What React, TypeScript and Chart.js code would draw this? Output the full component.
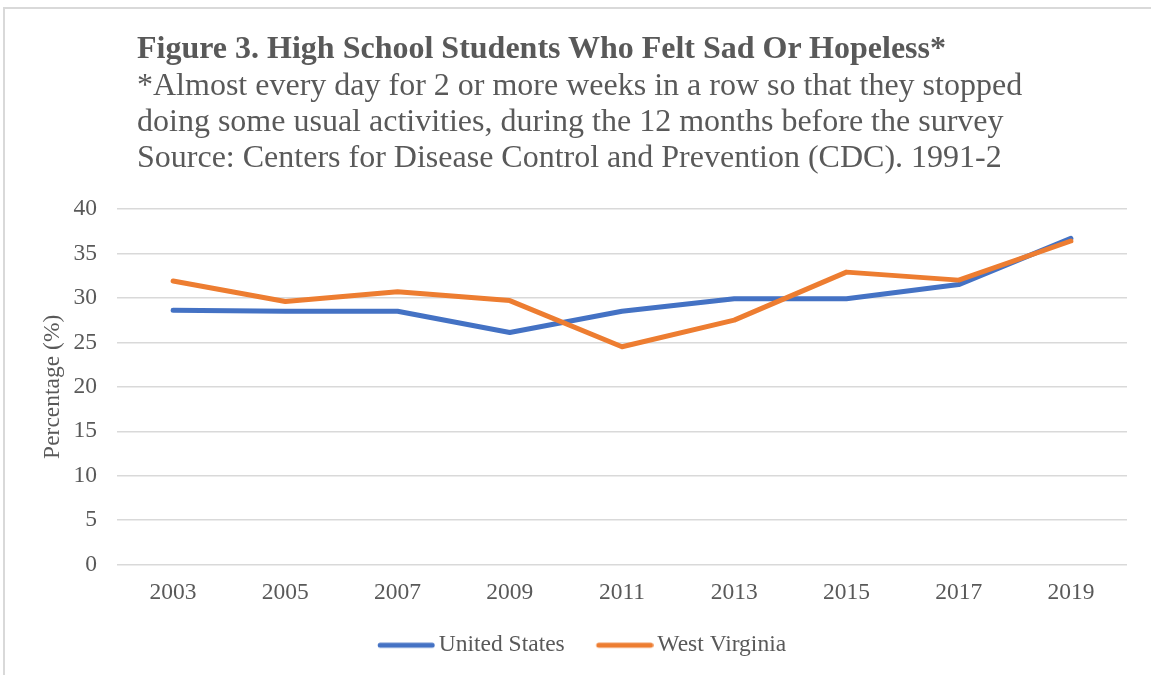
import React, { useEffect, useRef } from "react";
import { Chart, registerables } from "chart.js";

Chart.register(...registerables);

const years = ["2003", "2005", "2007", "2009", "2011", "2013", "2015", "2017", "2019"];
const unitedStates = [28.6, 28.5, 28.5, 26.1, 28.5, 29.9, 29.9, 31.5, 36.7];
const westVirginia = [31.9, 29.6, 30.7, 29.7, 24.5, 27.5, 32.9, 32.0, 36.4];
const titleLine = "Figure 3. High School Students Who Felt Sad Or Hopeless*";
const subtitleLines = [
  "*Almost every day for 2 or more weeks in a row so that they stopped",
  "doing some usual activities, during the 12 months before the survey",
  "Source: Centers for Disease Control and Prevention (CDC). 1991-2",
];

const FONT = "'Liberation Serif', 'Times New Roman', serif";
const TEXT = "#595959";
const BLUE = "#4472C4";
const ORANGE = "#ED7D31";
const FS = 23.5;

function legendLine(color: string): HTMLCanvasElement {
  const c = document.createElement("canvas");
  c.width = 82;
  c.height = 10;
  const g = c.getContext("2d")!;
  g.strokeStyle = color;
  g.lineWidth = 5;
  g.lineCap = "round";
  g.beginPath();
  g.moveTo(27.2, 5);
  g.lineTo(79.2, 5);
  g.stroke();
  return c;
}

export default function App() {
  const ref = useRef<HTMLCanvasElement | null>(null);

  useEffect(() => {
    document.body.style.margin = "0";
    const ctx = ref.current;
    if (!ctx) return;
    const chart = new Chart(ctx, {
      type: "line",
      data: {
        labels: years,
        datasets: [
          {
            label: "United States",
            data: unitedStates,
            borderColor: BLUE,
            backgroundColor: BLUE,
            borderWidth: 5,
            borderCapStyle: "round",
            borderJoinStyle: "round",
            pointRadius: 0,
            pointStyle: legendLine(BLUE),
            tension: 0,
            order: 1,
          },
          {
            label: "West Virginia",
            data: westVirginia,
            borderColor: ORANGE,
            backgroundColor: ORANGE,
            borderWidth: 5,
            borderCapStyle: "round",
            borderJoinStyle: "round",
            pointRadius: 0,
            pointStyle: legendLine(ORANGE),
            tension: 0,
            order: 0,
          },
        ],
      },
      options: {
        responsive: false,
        animation: false,
        layout: { padding: { top: 209, left: 20, right: 24, bottom: 8 } },
        scales: {
          x: {
            offset: true,
            grid: { display: false },
            border: { display: false },
            ticks: { color: TEXT, font: { family: FONT, size: FS }, padding: 6, maxRotation: 0 },
            afterFit: (scale: any) => {
              scale.height += 6;
            },
          },
          y: {
            min: 0,
            max: 40,
            ticks: { stepSize: 5, color: TEXT, font: { family: FONT, size: FS }, padding: 20 },
            grid: { color: "#d9d9d9", lineWidth: 1.5, drawTicks: false },
            border: { display: false },
            title: {
              display: true,
              text: "Percentage (%)",
              color: TEXT,
              font: { family: FONT, size: FS },
              padding: { top: 19, bottom: 0 },
            },
            afterFit: (scale: any) => {
              scale.width -= 13.7;
            },
          },
        },
        plugins: {
          legend: {
            position: "bottom",
            labels: {
              usePointStyle: true,
              pointStyleWidth: 66.15,
              color: TEXT,
              font: { family: FONT, size: FS },
              padding: 14.7,
              sort: (a: any, b: any) => a.datasetIndex - b.datasetIndex,
            },
          },
          tooltip: { enabled: false },
        },
      },
    } as any);
    return () => chart.destroy();
  }, []);

  return (
    <div style={{ position: "relative", width: 1151, height: 675, overflow: "hidden", background: "#fff" }}>
      <div
        style={{
          position: "absolute",
          left: 3,
          top: 7,
          width: 1170,
          height: 700,
          border: "2px solid #d9d9d9",
          boxSizing: "border-box",
        }}
      />
      <canvas ref={ref} width={1151} height={675} style={{ position: "absolute", left: 0, top: 0 }} />
      <div
        style={{
          position: "absolute",
          left: 137,
          top: 28,
          fontFamily: FONT,
          color: TEXT,
          whiteSpace: "nowrap",
        }}
      >
        <div style={{ fontWeight: "bold", fontSize: 32, lineHeight: "38px" }}>{titleLine}</div>
        {subtitleLines.map((l) => (
          <div key={l} style={{ fontSize: 32, lineHeight: "36px" }}>
            {l}
          </div>
        ))}
      </div>
    </div>
  );
}
